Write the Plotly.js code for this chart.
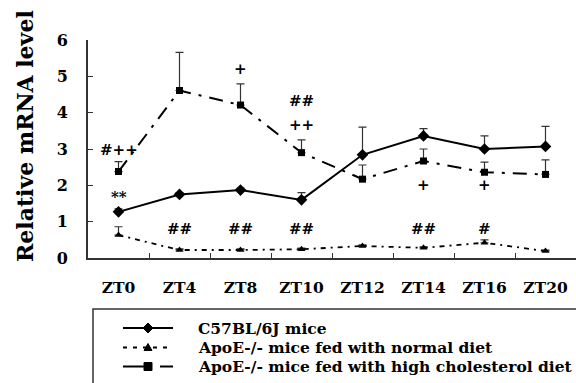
<!DOCTYPE html>
<html><head><meta charset="utf-8">
<script src="https://cdn.plot.ly/plotly-3.0.1.min.js"></script>
<style>html,body{margin:0;padding:0;background:#fff}#chart{width:576px;height:383px}</style>
</head><body><div id="chart"></div>
<script>
const categories = ["ZT0","ZT4","ZT8","ZT10","ZT12","ZT14","ZT16","ZT20"];
const c57Values = [1.27, 1.75, 1.87, 1.60, 2.84, 3.36, 3.00, 3.07];
const c57Err    = [0.08, 0.05, 0.05, 0.20, 0.76, 0.20, 0.36, 0.55];
const normalValues = [0.63, 0.22, 0.22, 0.24, 0.33, 0.28, 0.42, 0.19];
const normalErr    = [0.23, 0.03, 0.03, 0.03, 0.03, 0.03, 0.08, 0.03];
const hcValues = [2.38, 4.61, 4.21, 2.90, 2.17, 2.67, 2.36, 2.30];
const hcErr    = [0.27, 1.05, 0.58, 0.35, 0.39, 0.33, 0.28, 0.40];
const seriesNames = ["C57BL/6J mice", "ApoE-/- mice fed with normal diet", "ApoE-/- mice fed with high cholesterol diet"];
const yTicks = [0,1,2,3,4,5,6];
const yTitle = "Relative mRNA level";
// significance marks: [category, y value, text]
const marks = [
  ["ZT0", 2.97, "#++"], ["ZT0", 1.69, "**"],
  ["ZT4", 0.80, "##"], ["ZT8", 0.80, "##"], ["ZT10", 0.80, "##"],
  ["ZT8", 5.20, "+"], ["ZT10", 4.31, "##"], ["ZT10", 3.66, "++"],
  ["ZT14", 2.00, "+"], ["ZT16", 2.00, "+"],
  ["ZT14", 0.80, "##"], ["ZT16", 0.80, "#"]
];
const zeros = categories.map(() => 0);
const FONT = 'DejaVu Serif';
const W = 576, H = 383, ML = 88, MT = 40, MB = 125;
const PW = W - ML, PH = H - MT - MB;
const px = x => (x - ML) / PW;          // pixel -> paper x
const py = y => (H - MB - y) / PH;      // pixel -> paper y
function err(a){ return {type:"data", symmetric:false, array:a, arrayminus:zeros, color:"#333", thickness:1.2, width:4}; }
const styles = [
  {line:{color:"#000", width:2}, marker:{symbol:"diamond", size:9, color:"#000"},
   glyph:"M-5,0 L0,5 L5,0 L0,-5 Z"},
  {line:{color:"#000", width:1.8, dash:"5px,5px,2px,5px"}, marker:{symbol:"triangle-up", size:7, color:"#000"},
   glyph:"M-4,-3 L4,-3 L0,4 Z"},
  {line:{color:"#000", width:2, dash:"14px,8px,3px,8px"}, marker:{symbol:"square", size:7, color:"#000"},
   glyph:"M-4,-4 L4,-4 L4,4 L-4,4 Z"}
];
const values = [c57Values, normalValues, hcValues];
const errors = [c57Err, normalErr, hcErr];
const traces = values.map((v, i) => ({x:categories, y:v, name:seriesNames[i], type:"scatter", mode:"lines+markers",
  line:styles[i].line, marker:styles[i].marker, error_y:err(errors[i]), showlegend:false}));

const annotations = marks.map(m => ({x:m[0], y:m[1], xref:"x", yref:"y", text:"<b>" + m[2] + "</b>", showarrow:false,
  font:{family:FONT, size:15, color:"#000"}}));
annotations.push({xref:"paper", yref:"paper", x:px(25), y:py(136), xanchor:"center", yanchor:"middle",
  text:"<b>" + yTitle + "</b>", textangle:-90, showarrow:false, font:{family:FONT, size:22, color:"#000"}});

// manual legend
const rowY = [328, 347.5, 366.5];
const shapes = [{type:"rect", xref:"paper", yref:"paper", x0:px(93), x1:px(590), y0:py(309), y1:py(400),
    line:{color:"#333", width:1.5}, fillcolor:"rgba(0,0,0,0)"}];
seriesNames.forEach((name, i) => {
  const y = py(rowY[i]);
  if (i === 2) {
    shapes.push({type:"line", xref:"paper", yref:"paper", x0:px(123), x1:px(145), y0:y, y1:y, line:{color:"#000", width:2}});
    shapes.push({type:"line", xref:"paper", yref:"paper", x0:px(160), x1:px(173), y0:y, y1:y, line:{color:"#000", width:2}});
  } else if (i === 1) {
    shapes.push({type:"line", xref:"paper", yref:"paper", x0:px(123), x1:px(173), y0:y, y1:y, line:{color:"#000", width:1.8, dash:"4px,6px"}});
  } else {
    shapes.push({type:"line", xref:"paper", yref:"paper", x0:px(123), x1:px(173), y0:y, y1:y, line:{color:"#000", width:2}});
  }
  shapes.push({type:"path", xref:"paper", yref:"paper", xsizemode:"pixel", ysizemode:"pixel",
    xanchor:px(148), yanchor:y, path:styles[i].glyph, fillcolor:"#000", line:{color:"#000", width:1}});
  annotations.push({xref:"paper", yref:"paper", x:px(196), y:y, xanchor:"left", yanchor:"middle",
    text:"<b>" + name + "</b>", showarrow:false, font:{family:FONT, size:15.5, color:"#000"}});
});

const layout = {
  width:W, height:H,
  margin:{l:ML, r:0, t:MT, b:MB},
  paper_bgcolor:"#fff", plot_bgcolor:"#fff",
  showlegend:false,
  font:{family:FONT, color:"#000"},
  xaxis:{type:"category", range:[-0.5,7.5], showgrid:false, zeroline:false, showline:true, linecolor:"#333", linewidth:2,
    ticks:"inside", tickson:"boundaries", ticklen:5, tickcolor:"#333", tickwidth:1, tickangle:0,
    tickfont:{family:FONT, size:15.5, color:"#000", weight:"bold"}, ticklabelstandoff:14},
  yaxis:{range:[0,6], tickvals:yTicks, showgrid:false, zeroline:false, showline:true, linecolor:"#333", linewidth:2,
    ticks:"inside", ticklen:5, tickcolor:"#333", tickwidth:1,
    tickfont:{family:FONT, size:16, color:"#000", weight:"bold"}, ticklabelstandoff:15},
  shapes:shapes,
  annotations:annotations
};
Plotly.newPlot("chart", traces, layout, {displayModeBar:false, staticPlot:true});
</script></body></html>
